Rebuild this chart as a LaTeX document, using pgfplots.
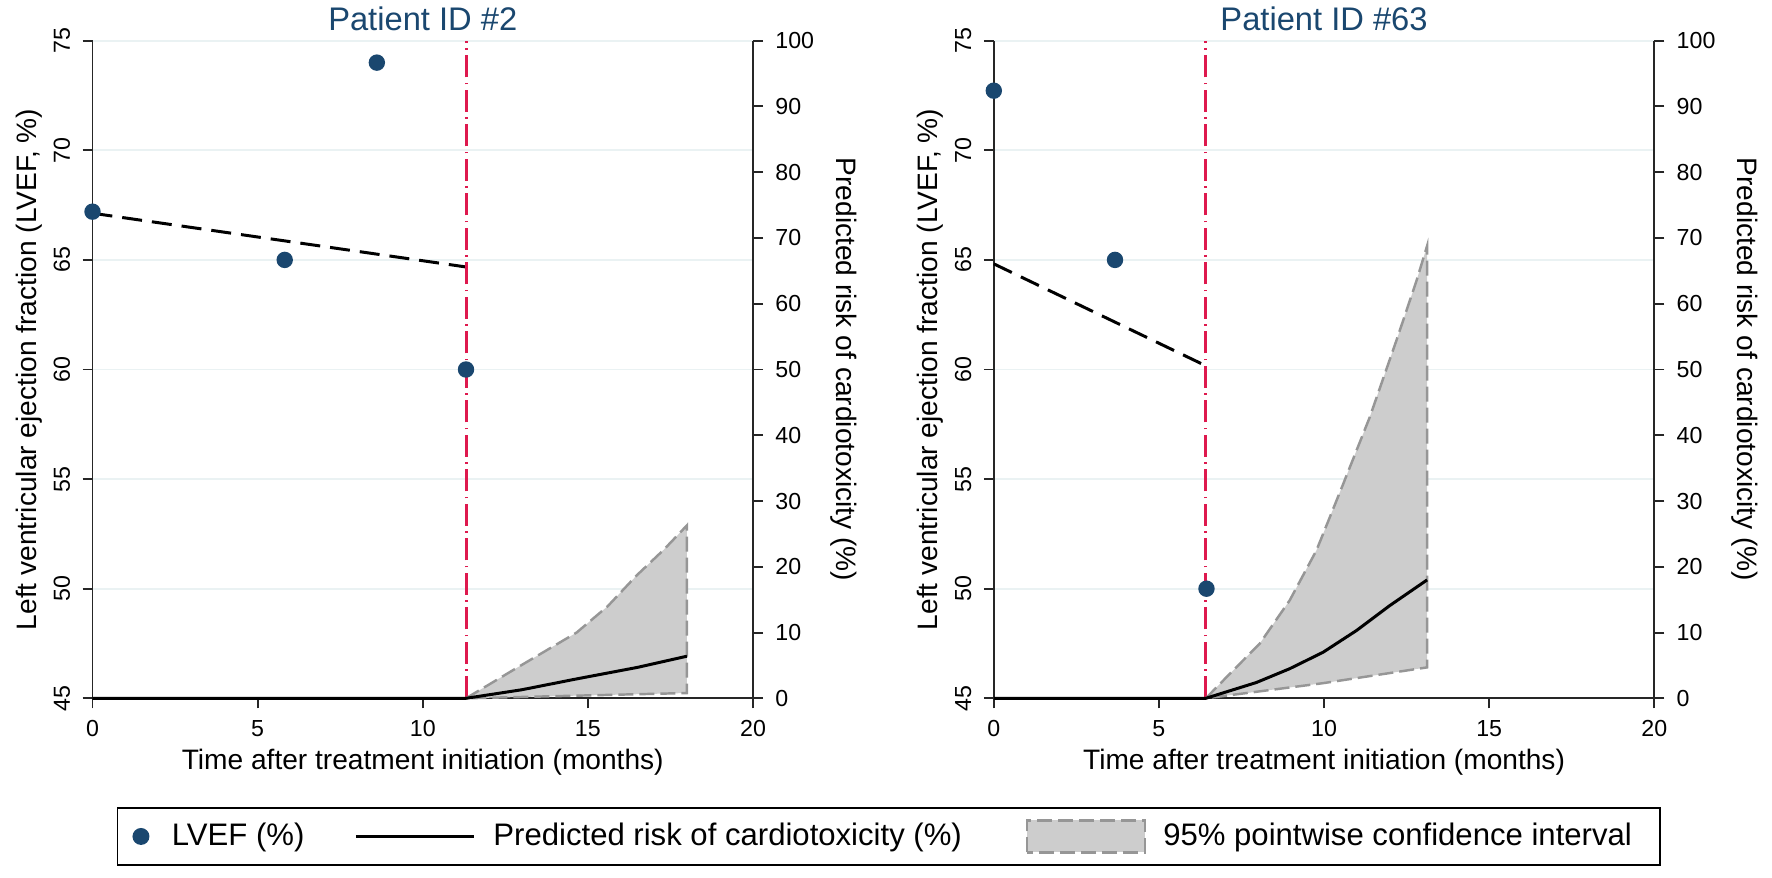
\documentclass[border=0pt]{standalone}
\usepackage{fontspec}
\setmainfont{Liberation Sans}
\usepackage{pgfplots}
\pgfplotsset{compat=1.18}

\definecolor{lvef}{RGB}{26,71,111}
\definecolor{vline}{RGB}{222,25,78}
\definecolor{gridc}{RGB}{234,242,243}
\definecolor{cifill}{RGB}{205,205,205}
\definecolor{ciedge}{RGB}{150,150,150}

\newcommand\tickfont{\fontsize{6.6}{7.5}\selectfont}
\newcommand\labfont{\fontsize{8.0}{9.5}\selectfont}
\newcommand\legfont{\fontsize{8.85}{10.5}\selectfont}
\newcommand\titfont{\fontsize{9.3}{11}\selectfont}

\pgfplotsset{
  every axis title shift=0pt,
  panel/.style={
    scale only axis, width=6.605cm, height=6.576cm,
    xmin=0, xmax=20, clip=false,
    tick align=outside, major tick length=0.1cm,
    tick style={black!85, line width=0.55pt},
    axis line style={black!85, line width=0.55pt},
    ticklabel style={font=\tickfont},
    /pgf/number format/assume math mode=true,
  },
  lvefaxis/.style={panel,
    ymin=45, ymax=75, ytick={45,50,...,75}, xtick={0,5,...,20},
    axis x line*=bottom, axis y line*=left,
    ymajorgrids, grid style={gridc, line width=0.55pt},
    yticklabel style={rotate=90, anchor=south},
    xlabel={Time after treatment initiation (months)},
    ylabel={Left ventricular ejection fraction (LVEF, \%)},
    label style={font=\labfont},
    xlabel style={at={(axis description cs:0.5,-0.0969)}, anchor=center},
    ylabel style={at={(axis description cs:-0.0965,0.5)}, anchor=center},
    title style={font=\titfont, text=lvef, at={(axis description cs:0.5,1.034)}, anchor=center},
  },
  riskaxis/.style={panel,
    ymin=0, ymax=100, ytick={0,10,...,100},
    axis x line=none, axis y line*=right,
    yticklabel style={anchor=west},
    ylabel={Predicted risk of cardiotoxicity (\%)},
    ylabel style={font=\labfont, rotate=180, at={(axis description cs:1.137,0.5)}, anchor=center},
  },
  pts/.style={only marks, mark=*, mark size=0.075cm, color=lvef, forget plot},
  traj/.style={black, line width=0.85pt, dash pattern=on 0.2cm off 0.1cm, forget plot},
  vmark/.style={vline, line width=0.85pt, dash pattern=on 0.22cm off 0.055cm on 0.015cm off 0.055cm, forget plot},
  risk/.style={black, line width=0.85pt, forget plot},
  band/.style={fill=cifill, draw=ciedge, line width=0.7pt, dash pattern=on 0.15cm off 0.06cm, forget plot},
}

\begin{document}
\begin{tikzpicture}
\useasboundingbox (0,0) rectangle (17.72cm,8.77cm);

% ---- Patient ID #2 ----
\begin{axis}[lvefaxis, at={(0.925cm,1.787cm)}, anchor=south west,
  title={Patient ID \#2},
  legend columns=3, legend cell align=left,
  legend style={at={(axis description cs:0.03634,-0.2101)}, anchor=west,
    draw=black, line width=0.55pt, inner sep=0pt, font=\legfont,
    nodes={inner sep=0pt},
    /tikz/column 1/.style={column sep=0.21cm},
    /tikz/column 2/.style={column sep=0.50cm},
    /tikz/column 3/.style={column sep=0.18cm},
    /tikz/column 4/.style={column sep=0.64cm},
    /tikz/column 5/.style={column sep=0.17cm}},
]
\addplot[traj] coordinates {(0,67.13) (11.3,64.68)};
\addplot[vmark] coordinates {(11.31,45) (11.31,75)};
\addplot[pts] coordinates {(0,67.2) (5.82,65) (8.61,74) (11.31,60)};
\addlegendimage{legend image code/.code={
  \path[draw=none,fill=none] (-0.235cm,-0.285cm) rectangle (0.10cm,0.285cm);
  \fill[lvef] (0cm,0cm) circle (0.075cm);}}
\addlegendentry{LVEF (\%)}
\addlegendimage{legend image code/.code={
  \path[draw=none,fill=none] (0cm,-0.285cm) rectangle (1.18cm,0.285cm);
  \draw[black, line width=0.85pt] (0cm,0cm) -- (1.18cm,0cm);}}
\addlegendentry{Predicted risk of cardiotoxicity (\%)}
\addlegendimage{legend image code/.code={
  \path[draw=none,fill=none] (0cm,-0.285cm) rectangle (1.18cm,0.285cm);
  \draw[fill=cifill, draw=ciedge, line width=0.7pt, dash pattern=on 0.15cm off 0.06cm]
    (0cm,-0.16cm) rectangle (1.18cm,0.16cm);}}
\addlegendentry{95\% pointwise confidence interval\rule{0.28cm}{0pt}}
\end{axis}

\begin{axis}[riskaxis, at={(0.925cm,1.787cm)}, anchor=south west]
\addplot[band] coordinates {
  (11.31,0) (12.84,4.6) (14.66,10.0) (15.6,14.0) (16.48,18.7) (17.3,22.6) (18,26.3)
  (18,0.8) (11.31,0)} -- cycle;
\addplot[risk] coordinates {
  (0,0) (11.31,0) (13,1.3) (14.66,2.95) (16.5,4.7) (18,6.4)};
\end{axis}

% ---- Patient ID #63 ----
\begin{axis}[lvefaxis, at={(9.938cm,1.787cm)}, anchor=south west,
  title={Patient ID \#63}]
\addplot[traj] coordinates {(0,64.82) (6.42,60.17)};
\addplot[vmark] coordinates {(6.42,45) (6.42,75)};
\addplot[pts] coordinates {(0,72.72) (3.67,65) (6.44,50)};
\end{axis}

\begin{axis}[riskaxis, at={(9.938cm,1.787cm)}, anchor=south west]
\addplot[band] coordinates {
  (6.42,0) (7.2,4.0) (8.05,8.3) (8.96,14.9) (9.77,22.5) (10.58,32.6)
  (11.38,42.7) (12.19,54.4) (12.8,63.5) (13.12,68.8)
  (13.12,4.7) (9.97,2.3) (6.42,0)} -- cycle;
\addplot[risk] coordinates {
  (0,0) (6.42,0) (7.95,2.4) (8.96,4.5) (9.97,7.0) (10.98,10.3) (11.99,14.1) (13.12,18.0)};
\end{axis}
\end{tikzpicture}
\end{document}
